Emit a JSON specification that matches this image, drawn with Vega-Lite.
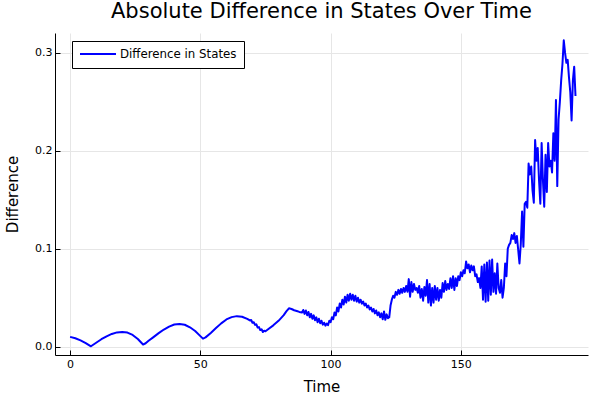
{
  "$schema": "https://vega.github.io/schema/vega-lite/v6.json",
  "autosize": "none",
  "width": 533,
  "height": 322,
  "padding": {"left": 55, "top": 33, "right": 12, "bottom": 45},
  "background": "white",
  "title": {"text": "Absolute Difference in States Over Time", "font": "DejaVu Sans", "fontSize": 21, "fontWeight": "normal", "color": "black", "anchor": "middle", "offset": 11},
  "data": {"values": [
    {"t":0,"d":0.0100},{"t":2,"d":0.0086},{"t":4,"d":0.0065},{"t":6,"d":0.0037},{"t":8,"d":0.0004},
    {"t":10,"d":0.0040},{"t":12,"d":0.0076},{"t":14,"d":0.0106},{"t":16,"d":0.0130},{"t":18,"d":0.0146},
    {"t":20,"d":0.0151},{"t":22,"d":0.0144},{"t":24,"d":0.0120},{"t":26,"d":0.0078},{"t":27,"d":0.0050},
    {"t":28,"d":0.0022},{"t":29,"d":0.0035},{"t":30,"d":0.0058},{"t":32,"d":0.0098},{"t":34,"d":0.0138},
    {"t":36,"d":0.0175},{"t":38,"d":0.0205},{"t":40,"d":0.0226},{"t":42,"d":0.0232},{"t":44,"d":0.0224},
    {"t":46,"d":0.0198},{"t":48,"d":0.0160},{"t":50,"d":0.0108},{"t":51,"d":0.0082},{"t":52,"d":0.0095},
    {"t":54,"d":0.0140},{"t":56,"d":0.0190},{"t":58,"d":0.0238},{"t":60,"d":0.0278},{"t":62,"d":0.0302},
    {"t":64,"d":0.0312},{"t":66,"d":0.0306},{"t":68,"d":0.0284},{"t":69,"d":0.0268},{"t":69.5,"d":0.0272},
    {"t":70,"d":0.0245},{"t":70.5,"d":0.0250},{"t":71,"d":0.0222},{"t":71.5,"d":0.0228},{"t":72,"d":0.0195},
    {"t":72.5,"d":0.0200},{"t":73,"d":0.0170},{"t":73.5,"d":0.0178},{"t":74,"d":0.0150},{"t":74.5,"d":0.0162},
    {"t":75,"d":0.0158},{"t":76,"d":0.0178},{"t":78,"d":0.0218},{"t":80,"d":0.0264},{"t":82,"d":0.0322},
    {"t":83,"d":0.0360},{"t":84,"d":0.0392},{"t":85,"d":0.0385},{"t":86,"d":0.0372},{"t":87,"d":0.0365},
    {"t":88,"d":0.0355},{"t":89,"d":0.0350},{"t":89.5,"d":0.0375},{"t":90,"d":0.0335},{"t":90.5,"d":0.0370},
    {"t":91,"d":0.0320},{"t":91.5,"d":0.0355},{"t":92,"d":0.0300},{"t":92.5,"d":0.0335},{"t":93,"d":0.0285},
    {"t":93.5,"d":0.0320},{"t":94,"d":0.0270},{"t":94.5,"d":0.0300},{"t":95,"d":0.0250},{"t":95.5,"d":0.0285},
    {"t":96,"d":0.0240},{"t":96.5,"d":0.0265},{"t":97,"d":0.0225},{"t":97.5,"d":0.0245},{"t":98,"d":0.0215},
    {"t":98.5,"d":0.0235},{"t":99,"d":0.0220},{"t":99.5,"d":0.0265},{"t":100,"d":0.0250},{"t":100.5,"d":0.0300},
    {"t":101,"d":0.0280},{"t":101.5,"d":0.0350},{"t":102,"d":0.0320},{"t":102.5,"d":0.0400},{"t":103,"d":0.0360},
    {"t":103.5,"d":0.0440},{"t":104,"d":0.0400},{"t":104.5,"d":0.0480},{"t":105,"d":0.0430},{"t":105.5,"d":0.0510},
    {"t":106,"d":0.0450},{"t":106.5,"d":0.0530},{"t":107,"d":0.0470},{"t":107.5,"d":0.0540},{"t":108,"d":0.0480},
    {"t":108.5,"d":0.0530},{"t":109,"d":0.0470},{"t":109.5,"d":0.0520},{"t":110,"d":0.0460},{"t":110.5,"d":0.0500},
    {"t":111,"d":0.0450},{"t":111.5,"d":0.0480},{"t":112,"d":0.0440},{"t":112.5,"d":0.0460},{"t":113,"d":0.0420},
    {"t":113.5,"d":0.0440},{"t":114,"d":0.0400},{"t":114.5,"d":0.0420},{"t":115,"d":0.0380},{"t":115.5,"d":0.0400},
    {"t":116,"d":0.0360},{"t":116.5,"d":0.0385},{"t":117,"d":0.0340},{"t":117.5,"d":0.0370},{"t":118,"d":0.0320},
    {"t":118.5,"d":0.0350},{"t":119,"d":0.0300},{"t":119.5,"d":0.0340},{"t":120,"d":0.0280},{"t":120.5,"d":0.0360},
    {"t":121,"d":0.0275},{"t":121.5,"d":0.0330},{"t":122,"d":0.0290},{"t":122.5,"d":0.0300},{"t":123,"d":0.0420},
    {"t":123.5,"d":0.0480},{"t":124,"d":0.0520},{"t":124.5,"d":0.0500},{"t":125,"d":0.0560},{"t":125.5,"d":0.0530},
    {"t":126,"d":0.0580},{"t":126.5,"d":0.0540},{"t":127,"d":0.0590},{"t":127.5,"d":0.0550},{"t":128,"d":0.0600},
    {"t":128.5,"d":0.0560},{"t":129,"d":0.0620},{"t":129.5,"d":0.0560},{"t":130,"d":0.0690},{"t":130.5,"d":0.0510},
    {"t":131,"d":0.0660},{"t":131.5,"d":0.0560},{"t":132,"d":0.0640},{"t":132.5,"d":0.0580},{"t":133,"d":0.0600},
    {"t":133.5,"d":0.0550},{"t":134,"d":0.0620},{"t":134.5,"d":0.0500},{"t":135,"d":0.0590},{"t":135.5,"d":0.0470},
    {"t":136,"d":0.0610},{"t":136.5,"d":0.0520},{"t":137,"d":0.0680},{"t":137.5,"d":0.0450},{"t":138,"d":0.0640},
    {"t":138.5,"d":0.0420},{"t":139,"d":0.0600},{"t":139.5,"d":0.0450},{"t":140,"d":0.0620},{"t":140.5,"d":0.0480},
    {"t":141,"d":0.0600},{"t":141.5,"d":0.0470},{"t":142,"d":0.0580},{"t":142.5,"d":0.0500},{"t":143,"d":0.0650},
    {"t":143.5,"d":0.0560},{"t":144,"d":0.0670},{"t":144.5,"d":0.0580},{"t":145,"d":0.0640},{"t":145.5,"d":0.0590},
    {"t":146,"d":0.0700},{"t":146.5,"d":0.0600},{"t":147,"d":0.0720},{"t":147.5,"d":0.0580},{"t":148,"d":0.0700},
    {"t":148.5,"d":0.0620},{"t":149,"d":0.0720},{"t":149.5,"d":0.0680},{"t":150,"d":0.0760},{"t":150.5,"d":0.0720},
    {"t":151,"d":0.0780},{"t":151.5,"d":0.0750},{"t":152,"d":0.0870},{"t":152.5,"d":0.0800},{"t":153,"d":0.0840},
    {"t":153.5,"d":0.0760},{"t":154,"d":0.0830},{"t":154.5,"d":0.0780},{"t":155,"d":0.0820},{"t":155.5,"d":0.0720},
    {"t":156,"d":0.0740},{"t":156.5,"d":0.0660},{"t":157,"d":0.0700},{"t":157.5,"d":0.0600},{"t":158,"d":0.0820},
    {"t":158.5,"d":0.0480},{"t":159,"d":0.0840},{"t":159.5,"d":0.0460},{"t":160,"d":0.0860},{"t":160.5,"d":0.0470},
    {"t":161,"d":0.0880},{"t":161.5,"d":0.0530},{"t":162,"d":0.0890},{"t":162.5,"d":0.0560},{"t":163,"d":0.0750},
    {"t":163.5,"d":0.0540},{"t":164,"d":0.0850},{"t":164.5,"d":0.0600},{"t":165,"d":0.0550},{"t":165.5,"d":0.0680},
    {"t":166,"d":0.0500},{"t":166.5,"d":0.0600},{"t":167,"d":0.0850},{"t":167.5,"d":0.0720},{"t":168,"d":0.1000},
    {"t":168.5,"d":0.1040},{"t":169,"d":0.1060},{"t":169.5,"d":0.1140},{"t":170,"d":0.1100},{"t":170.5,"d":0.1160},
    {"t":171,"d":0.1060},{"t":171.5,"d":0.1130},{"t":172,"d":0.0990},{"t":172.5,"d":0.0850},{"t":173,"d":0.1050},
    {"t":173.5,"d":0.1380},{"t":174,"d":0.1020},{"t":174.5,"d":0.1460},{"t":175,"d":0.1480},{"t":175.5,"d":0.1420},
    {"t":176,"d":0.1870},{"t":176.5,"d":0.1760},{"t":177,"d":0.1840},{"t":177.5,"d":0.1600},{"t":178,"d":0.1470},
    {"t":178.5,"d":0.2110},{"t":179,"d":0.1900},{"t":179.5,"d":0.2030},{"t":180,"d":0.1700},{"t":180.5,"d":0.1460},
    {"t":181,"d":0.2080},{"t":181.5,"d":0.1700},{"t":182,"d":0.1430},{"t":182.5,"d":0.1960},{"t":183,"d":0.1580},
    {"t":183.5,"d":0.2080},{"t":184,"d":0.1840},{"t":184.5,"d":0.1900},{"t":185,"d":0.1780},{"t":185.5,"d":0.2180},
    {"t":186,"d":0.1900},{"t":186.5,"d":0.2520},{"t":187,"d":0.1640},{"t":187.5,"d":0.2320},{"t":188,"d":0.2500},
    {"t":188.5,"d":0.2720},{"t":189,"d":0.2890},{"t":189.5,"d":0.3130},{"t":190,"d":0.3000},{"t":190.5,"d":0.2900},
    {"t":191,"d":0.2930},{"t":191.5,"d":0.2750},{"t":192,"d":0.2600},{"t":192.5,"d":0.2310},{"t":193,"d":0.2720},
    {"t":193.5,"d":0.2860},{"t":194,"d":0.2560}
  ]},
  "mark": {"type": "line", "strokeWidth": 2, "clip": true, "strokeJoin": "round"},
  "encoding": {
    "x": {"field": "t", "type": "quantitative",
      "scale": {"domain": [-5.8, 198.8], "nice": false, "zero": false},
      "axis": {"title": "Time", "values": [0, 50, 100, 150], "format": "d"}},
    "y": {"field": "d", "type": "quantitative",
      "scale": {"domain": [-0.0085, 0.3204], "nice": false, "zero": false},
      "axis": {"title": "Difference", "values": [0, 0.1, 0.2, 0.3], "format": ".1f"}},
    "color": {"datum": "Difference in States", "type": "nominal",
      "scale": {"range": ["#0000ff"]},
      "legend": {"title": null, "orient": "none", "legendX": 17, "legendY": 8}}
  },
  "config": {
    "view": {"stroke": null},
    "axis": {
      "domainColor": "black", "domainWidth": 1,
      "grid": true, "gridColor": "#e6e6e6", "gridWidth": 1,
      "tickColor": "black", "tickSize": -5,
      "labelFont": "DejaVu Sans", "labelFontSize": 11, "labelColor": "black",
      "titleFont": "DejaVu Sans", "titleFontSize": 15, "titleFontWeight": "normal", "titleColor": "black"
    },
    "axisX": {"labelPadding": 8, "titlePadding": 10},
    "axisY": {"labelPadding": 8, "titlePadding": 14},
    "legend": {
      "strokeColor": "black", "fillColor": "white", "padding": 7,
      "symbolType": "M-1,0H6.2", "symbolSize": 100, "symbolStrokeWidth": 2,
      "labelFont": "DejaVu Sans", "labelFontSize": 11.8, "labelColor": "black", "labelOffset": 29
    }
  }
}
